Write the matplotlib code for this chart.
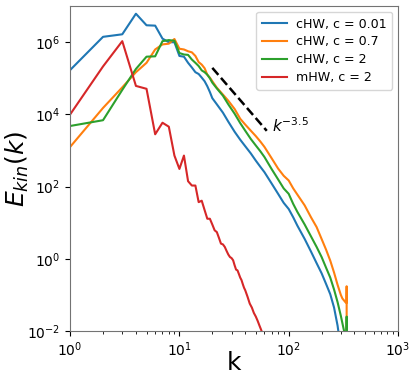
import numpy as np
import matplotlib
matplotlib.use("Agg")
import matplotlib.pyplot as plt

# ---- data (log10 of E_kin) ----
k_c001 = [1, 2, 3, 4, 5, 6, 7, 8, 9, 10, 11, 12, 13, 14, 15, 16, 17, 18, 19, 20,
          22, 25, 28, 32, 36, 40, 45, 50, 55, 60, 70, 80, 90, 100, 110, 120, 140,
          160, 180, 200, 220, 240, 260, 280, 300, 320, 340]
logE_c001 = [5.23, 6.15, 6.22, 6.79, 6.47, 6.46, 6.10, 6.00, 6.00, 5.62, 5.60, 5.43,
             5.30, 5.17, 5.12, 5.02, 4.92, 4.78, 4.62, 4.45, 4.28, 4.05, 3.80, 3.52,
             3.30, 3.12, 2.92, 2.72, 2.55, 2.40, 2.08, 1.80, 1.55, 1.38, 1.15, 0.92,
             0.55, 0.20, -0.12, -0.40, -0.70, -0.98, -1.35, -1.85, -2.5, -3.2, -3.8]

k_c07 = [1, 2, 3, 4, 5, 6, 7, 8, 9, 10, 11, 12, 13, 14, 15, 16, 17, 18, 19, 20,
         22, 25, 28, 32, 36, 40, 45, 50, 55, 60, 70, 80, 90, 100, 110, 120, 140,
         160, 180, 200, 220, 240, 260, 280, 300, 310, 320, 330, 338, 339, 340]
logE_c07 = [3.10, 4.18, 4.75, 5.17, 5.43, 5.80, 5.94, 5.96, 6.09, 5.82, 5.80, 5.75,
             5.72, 5.62, 5.45, 5.38, 5.28, 5.10, 5.02, 4.92, 4.74, 4.55, 4.38, 4.15,
             3.88, 3.72, 3.55, 3.40, 3.25, 3.10, 2.78, 2.50, 2.30, 2.17, 1.95, 1.78,
             1.48, 1.15, 0.88, 0.55, 0.25, -0.05, -0.38, -0.72, -1.0, -1.1, -1.15,
             -1.2, -1.22, -0.76, -8.0]

k_c2 = [1, 2, 3, 4, 5, 6, 7, 8, 9, 10, 11, 12, 13, 14, 15, 16, 17, 18, 19, 20,
        22, 25, 28, 32, 36, 40, 45, 50, 55, 60, 70, 80, 90, 100, 110, 120, 140,
        160, 180, 200, 220, 240, 260, 280, 300, 320, 330, 338, 339, 340]
logE_c2 = [3.68, 3.84, 4.68, 5.26, 5.60, 5.61, 6.03, 6.06, 6.04, 5.70, 5.66, 5.65,
           5.52, 5.43, 5.34, 5.22, 5.17, 5.10, 5.00, 4.88, 4.72, 4.52, 4.28, 4.02,
           3.76, 3.55, 3.32, 3.14, 2.98, 2.82, 2.48, 2.20, 1.95, 1.80, 1.52, 1.30,
           0.95, 0.62, 0.33, 0.05, -0.25, -0.52, -0.85, -1.2, -1.58, -1.98, -2.2,
           -2.35, -1.6, -8.0]

k_m2 = [1, 2, 3, 4, 5, 6, 7, 8, 9, 10, 11, 12, 13, 14, 15, 16, 17, 18, 19, 20,
        21, 22, 23, 24, 25, 26, 27, 28, 29, 30, 31, 32, 33, 34, 35, 36, 37, 38,
        39, 40, 42, 44, 46, 48, 50, 52, 54, 56, 58, 60, 64]
logE_m2 = [4.0, 5.33, 6.03, 4.79, 4.71, 3.45, 3.77, 3.66, 2.86, 2.49, 2.86, 2.15,
           2.03, 2.03, 1.57, 1.61, 1.35, 1.11, 1.11, 0.95, 0.79, 0.74, 0.58, 0.42,
           0.40, 0.33, 0.22, 0.12, 0.05, 0.02, -0.04, -0.18, -0.30, -0.32, -0.42,
           -0.52, -0.59, -0.70, -0.80, -0.87, -1.05, -1.24, -1.35, -1.50, -1.60,
           -1.72, -1.85, -1.97, -2.1, -2.25, -2.5]

labels = ["cHW, c = 0.01", "cHW, c = 0.7", "cHW, c = 2", "mHW, c = 2"]
colors = ["#1f77b4", "#ff7f0e", "#2ca02c", "#d62728"]

# reference power law k^-3.5
ref_k = [20, 63]
ref_E0 = 1.95e5
ref_slope = -3.5

fig = plt.figure(figsize=(4.15, 3.84), dpi=100)
ax = fig.add_axes([0.169, 0.138, 0.79, 0.846])

series = [(k_c001, logE_c001), (k_c07, logE_c07), (k_c2, logE_c2), (k_m2, logE_m2)]
for (kk, le), lab, col in zip(series, labels, colors):
    ax.plot(kk, 10.0 ** np.array(le), color=col, lw=1.5, label=lab)

kr = np.array(ref_k, dtype=float)
ax.plot(kr, ref_E0 * (kr / kr[0]) ** ref_slope, 'k--', lw=1.8)
ax.text(70, 4.8e3, r"$k^{-3.5}$", fontsize=11, va='center', ha='left')

ax.set_xscale('log')
ax.set_yscale('log')
ax.set_xlim(1, 1e3)
ax.set_ylim(1e-2, 1e7)
ax.set_yticks([1e-2, 1e0, 1e2, 1e4, 1e6])
ax.yaxis.set_minor_locator(matplotlib.ticker.NullLocator())
ax.tick_params(labelsize=10)
for s in ax.spines.values():
    s.set_color('0.45')

ax.set_xlabel("k", fontsize=18)
ax.set_ylabel(r"$E_{kin}(k)$", fontsize=18)
ax.yaxis.set_label_coords(-0.119, 0.5)
ax.xaxis.set_label_coords(0.5, -0.062)
ax.legend(loc='upper right', fontsize=9.1, handlelength=2.0, handletextpad=0.7,
          labelspacing=0.38, borderpad=0.45, borderaxespad=0.45)

fig.savefig("out.png", dpi=100)
